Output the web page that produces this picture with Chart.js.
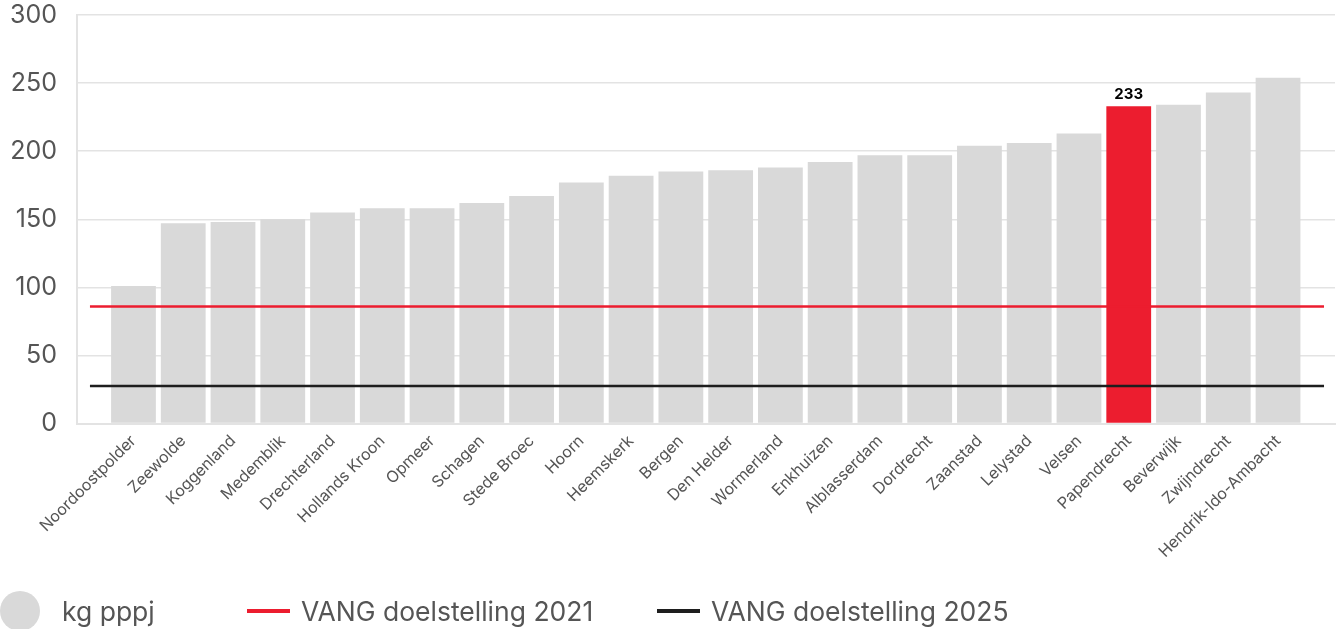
<!doctype html>
<html>

<head>
  <title>kg pppj per gemeente</title>
  <script src="https://cdn.jsdelivr.net/npm/chart.js@4.4.1/dist/chart.umd.min.js"></script>
</head>
<style>
  body {
    margin: 0;
    font-family: Inter, sans-serif;
    background: #fff;
  }

  .chartContainer {
    position: relative;
    width: 1340px;
    height: 629px;
    overflow: hidden;
  }

  .legend {
    position: absolute;
    left: 0;
    top: 591px;
    width: 1340px;
    height: 40px;
  }

  .legendItem {
    position: absolute;
    top: 0;
    height: 40px;
    display: flex;
    align-items: center;
    color: #555;
    font-size: 26.5px;
    white-space: nowrap;
  }

  .dot {
    width: 40px;
    height: 40px;
    border-radius: 50%;
    margin-right: 22px;
  }

  .dash {
    width: 43px;
    height: 4px;
    margin-right: 11px;
  }
</style>

<body>
  <div class="chartContainer">
    <canvas id="plotId" width="1340" height="629"></canvas>
    <div id="legendId" class="legend"></div>
  </div>
  <script>
    var municipalities = ["Noordoostpolder", "Zeewolde", "Koggenland", "Medemblik", "Drechterland",
      "Hollands Kroon", "Opmeer", "Schagen", "Stede Broec", "Hoorn", "Heemskerk", "Bergen",
      "Den Helder", "Wormerland", "Enkhuizen", "Alblasserdam", "Dordrecht", "Zaanstad",
      "Lelystad", "Velsen", "Papendrecht", "Beverwijk", "Zwijndrecht", "Hendrik-Ido-Ambacht"];
    var kgPerInhabitant = [101, 147, 148, 150, 155, 158, 158, 162, 167, 177, 182, 185,
      186, 188, 192, 197, 197, 204, 206, 213, 233, 234, 243, 254];
    var highlighted = "Papendrecht";
    var target2021 = 86;
    var target2025 = 27.5;
    var yTicks = [0, 50, 100, 150, 200, 250, 300];

    var grey = "#d9d9d9";
    var red = "#ec1d2f";
    var black = "#1e1e1e";
    var gridColor = "#e3e3e3";

    // label above the highlighted bar
    var valueLabel = {
      id: "valueLabel",
      afterDatasetsDraw: function (chart) {
        var i = municipalities.indexOf(highlighted);
        var bar = chart.getDatasetMeta(0).data[i];
        var ctx = chart.ctx;
        ctx.save();
        ctx.font = "bold 15px Inter, sans-serif";
        ctx.fillStyle = "#000";
        ctx.textAlign = "center";
        ctx.textBaseline = "alphabetic";
        ctx.fillText(kgPerInhabitant[i], bar.x, bar.y - 7);
        ctx.restore();
      }
    };

    var ctx = document.getElementById("plotId").getContext("2d");
    var chart = new Chart(ctx, {
      type: "bar",
      data: {
        labels: municipalities,
        datasets: [{
          type: "bar",
          label: "kg pppj",
          data: kgPerInhabitant,
          backgroundColor: municipalities.map(function (m) { return m === highlighted ? red : grey; }),
          grouped: false,
          barPercentage: 0.9,
          categoryPercentage: 1,
          order: 2
        }, {
          type: "line",
          label: "VANG doelstelling 2021",
          xAxisID: "x2",
          data: [{ x: 0, y: target2021 }, { x: 1, y: target2021 }],
          borderColor: red,
          borderWidth: 2.5,
          pointRadius: 0,
          order: 1
        }, {
          type: "line",
          label: "VANG doelstelling 2025",
          xAxisID: "x2",
          data: [{ x: 0, y: target2025 }, { x: 1, y: target2025 }],
          borderColor: black,
          borderWidth: 2.5,
          pointRadius: 0,
          order: 1
        }]
      },
      options: {
        responsive: false,
        animation: false,
        devicePixelRatio: 1,
        layout: { padding: { top: 15, right: 5, left: 0, bottom: 0 } },
        plugins: {
          legend: { display: false },
          tooltip: { enabled: false }
        },
        scales: {
          x: {
            type: "category",
            grid: { display: false, drawTicks: false },
            border: { display: true, color: gridColor, width: 2 },
            ticks: {
              autoSkip: false,
              minRotation: 45,
              maxRotation: 45,
              padding: 8,
              color: "#555",
              font: { family: "Inter", size: 16 }
            },
            afterBuildTicks: function (scale) {
              // bars sit a bit right of centre in the plot, as in the original
              scale._startValue = -1.135;
              scale._valueRange = 25.28;
            },
            afterFit: function (scale) {
              scale.height = 205.5;
              scale.paddingLeft = 0;
              scale.paddingRight = 0;
            }
          },
          x2: {
            type: "linear",
            display: false,
            offset: false,
            grid: { offset: false },
            min: -0.0105,
            max: 1.0089
          },
          y: {
            min: 0,
            max: 300,
            grid: { color: gridColor, lineWidth: 1.5, drawTicks: false },
            border: { display: true, color: gridColor, width: 2 },
            ticks: {
              padding: 20,
              color: "#555",
              font: { family: "Inter", size: 25 }
            },
            afterBuildTicks: function (scale) {
              scale.ticks = yTicks.map(function (v) { return { value: v }; });
            },
            afterFit: function (scale) {
              scale.width = 77;
              scale.paddingTop = 0;
              scale.paddingBottom = 0;
            }
          }
        }
      },
      plugins: [valueLabel]
    });

    // legend built from the chart's datasets
    var legendLefts = [0, 247, 657];
    var legendDiv = document.getElementById("legendId");
    chart.data.datasets.forEach(function (ds, i) {
      var item = document.createElement("div");
      item.className = "legendItem";
      item.style.left = legendLefts[i] + "px";
      var mark = document.createElement("span");
      if (ds.type === "bar") {
        mark.className = "dot";
        mark.style.background = grey;
      } else {
        mark.className = "dash";
        mark.style.background = ds.borderColor;
      }
      item.appendChild(mark);
      item.appendChild(document.createTextNode(ds.label));
      legendDiv.appendChild(item);
    });
  </script>
</body>

</html>
